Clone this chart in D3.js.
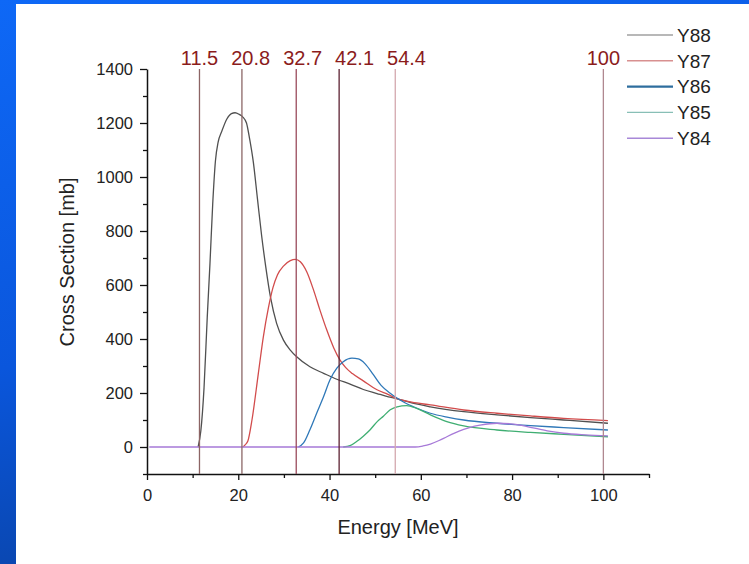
<!DOCTYPE html>
<html>
<head>
<meta charset="utf-8">
<script src="https://cdn.jsdelivr.net/npm/d3@7"></script>
<style>
  html, body { margin: 0; padding: 0; background: #fff; }
  svg { display: block; font-family: "Liberation Sans", Arial, sans-serif; }
</style>
</head>
<body>
<svg id="chart" width="749" height="564"></svg>
<script>
// series: [energy MeV, cross section mb]
const y88 = [[11.2,0],[11.8,60],[12.5,220],[13.2,480],[13.8,680],[14.4,900],[15.0,1060],[15.6,1130],[16.4,1170],[17.5,1215],[18.5,1235],[19.3,1238],[20.2,1232],[21.0,1222],[21.8,1200],[22.5,1140],[23.3,1055],[24.2,920],[25.1,785],[26.0,670],[27.1,551],[28.4,458],[29.9,396],[31.4,359],[32.8,334],[35.7,297],[38.7,273],[41.6,251],[44.5,233],[47.4,213],[50.4,198],[52.9,186],[54.5,180],[58,163],[62.1,149],[69.4,131],[76.7,119],[84,109],[91.3,100],[101,88]];
const y87 = [[21.0,0],[21.5,8],[22.1,22],[23.0,100],[24.4,273],[25.5,409],[26.6,515],[27.6,590],[28.6,638],[29.9,670],[31.4,690],[32.5,695],[33.6,686],[35.0,649],[36.5,581],[37.9,507],[39.4,433],[40.9,368],[42.3,322],[43.5,295],[45,272],[47.4,245],[50.4,212],[52.9,194],[54.5,181],[58,166],[62.1,156],[69.4,137],[76.7,125],[84,115],[91.3,106],[101,98]];
const y86 = [[33.2,0],[34.3,15],[35.7,64],[37.2,126],[38.7,187],[40.1,249],[41.6,292],[43.0,316],[44.9,329],[46.3,326],[47.8,308],[49.6,268],[51.3,228],[53.3,199],[54.5,184],[56.5,164],[58.4,149],[62.1,125],[66,110],[69.4,100],[76.7,88],[84,79],[91.3,72],[101,63]];
const y85 = [[43.0,0],[44.5,5],[46,21],[47.4,40],[48.9,64],[50.5,95],[51.8,114],[53.3,138],[54.8,149],[56.9,153],[59.1,143],[62.1,119],[65.7,94],[69.4,78],[76.7,63],[84,54],[91.3,47],[101,38]];
const y84 = [[0.5,0],[58.8,0],[60.5,4],[62.1,11],[64,24],[65.7,38],[67.5,52],[69.4,65],[71,74],[73,81],[76.7,88],[80.3,85],[84,73],[87.7,60],[91.3,51],[96,45],[101,41]];

const seriesNames = ["Y88", "Y87", "Y86", "Y85", "Y84"];
const seriesData = [y88, y87, y86, y85, y84];
const seriesColors = ["#505050", "#d24c4c", "#2f78b8", "#3fae72", "#a77ad8"];
const legendColors = ["#a0a0a0", "#d89090", "#2e6e9e", "#88bfb6", "#a888d8"];

const markerValues = [11.5, 20.8, 32.7, 42.1, 54.4, 100];
const markerColors = ["#8c6464", "#8c6666", "#9a4a5c", "#5c2232", "#d4a8ae", "#b08890"];

const xMajor = [0, 20, 40, 60, 80, 100];
const xMinor = [10, 30, 50, 70, 90, 110];
const yMajor = [0, 200, 400, 600, 800, 1000, 1200, 1400];
const yMinor = [-100, 100, 300, 500, 700, 900, 1100, 1300];

const svg = d3.select("#chart"),
    width = +svg.attr("width"),
    height = +svg.attr("height");

// slide background: blue strip on the left and top, white page
const defs = svg.append("defs");
const grad = defs.append("linearGradient")
    .attr("id", "slide").attr("x1", 0).attr("y1", 0).attr("x2", 0.3).attr("y2", 1);
grad.append("stop").attr("offset", 0).attr("stop-color", "#0e68f6");
grad.append("stop").attr("offset", 0.6).attr("stop-color", "#0a56dc");
grad.append("stop").attr("offset", 1).attr("stop-color", "#0a44a8");
svg.append("rect").attr("width", width).attr("height", height).attr("fill", "url(#slide)");
svg.append("rect").attr("x", 16).attr("y", 4).attr("width", width - 16).attr("height", height - 4).attr("fill", "#fff");

const x = d3.scaleLinear().domain([0, 110]).range([147, 649]);
const y = d3.scaleLinear().domain([-100, 1400]).range([474, 69]);

// axes
const axisG = svg.append("g");

axisG.append("g").attr("transform", `translate(0,${y(-100)})`)
  .call(d3.axisBottom(x).tickValues(xMajor).tickFormat(d3.format("d")).tickSize(6).tickPadding(9).tickSizeOuter(0));
axisG.append("g").attr("transform", `translate(0,${y(-100)})`)
  .call(d3.axisBottom(x).tickValues(xMinor).tickFormat("").tickSize(4).tickSizeOuter(0))
  .select(".domain").remove();

axisG.append("g").attr("transform", `translate(${x(0)},0)`)
  .call(d3.axisLeft(y).tickValues(yMajor).tickFormat(d3.format("d")).tickSize(7).tickPadding(7).tickSizeOuter(0));
axisG.append("g").attr("transform", `translate(${x(0)},0)`)
  .call(d3.axisLeft(y).tickValues(yMinor).tickFormat("").tickSize(4).tickSizeOuter(0))
  .select(".domain").remove();

axisG.selectAll(".domain").attr("stroke", "#111").attr("stroke-width", 1.5);
axisG.selectAll(".tick line").attr("stroke", "#111").attr("stroke-width", 1.3);
axisG.selectAll(".tick text")
    .attr("fill", "#222")
    .attr("font-size", 16.5)
    .attr("font-family", "Liberation Sans, Arial, sans-serif");

svg.append("text")
    .attr("x", (x(0) + x(110)) / 2).attr("y", 534)
    .attr("text-anchor", "middle").attr("font-size", 20).attr("fill", "#222")
    .text("Energy [MeV]");

svg.append("text")
    .attr("transform", "translate(74,262) rotate(-90)")
    .attr("text-anchor", "middle").attr("font-size", 20).attr("fill", "#222")
    .text("Cross Section [mb]");

// curves
const line = d3.line()
    .x(d => x(d[0]))
    .y(d => y(d[1]))
    .curve(d3.curveMonotoneX);

svg.append("g").attr("fill", "none")
  .selectAll("path")
  .data(seriesData)
  .join("path")
    .attr("stroke", (d, i) => seriesColors[i])
    .attr("stroke-width", 1.3)
    .attr("d", line);

// threshold markers
svg.append("g")
  .selectAll("line")
  .data(markerValues)
  .join("line")
    .attr("x1", d => x(d)).attr("x2", d => x(d))
    .attr("y1", y(1400)).attr("y2", y(-100))
    .attr("stroke", (d, i) => markerColors[i])
    .attr("stroke-width", 1.3);

const labels = svg.append("g")
  .selectAll("text")
  .data(markerValues)
  .join("text")
    .attr("y", 65)
    .attr("font-size", 20)
    .attr("fill", "#8b1c1c")
    .text(d => d);

// centre each label on its line, push to the right when it would touch the previous one
let lastRight = -Infinity;
labels.each(function(d) {
  const w = this.getComputedTextLength();
  let left = x(d) - w / 2;
  if (left < lastRight + 13) left = lastRight + 13;
  d3.select(this).attr("x", left);
  lastRight = left + w;
});

// legend
const legend = svg.append("g")
  .selectAll("g")
  .data(seriesNames)
  .join("g")
    .attr("transform", (d, i) => `translate(627,${35 + i * 25.8})`);

legend.append("line")
    .attr("x1", 0).attr("x2", 46)
    .attr("stroke", (d, i) => legendColors[i])
    .attr("stroke-width", (d, i) => i === 2 ? 2.2 : 1.4);

legend.append("text")
    .attr("x", 50).attr("dy", "0.36em")
    .attr("font-size", 19).attr("fill", "#222")
    .text(d => d);
</script>
</body>
</html>
